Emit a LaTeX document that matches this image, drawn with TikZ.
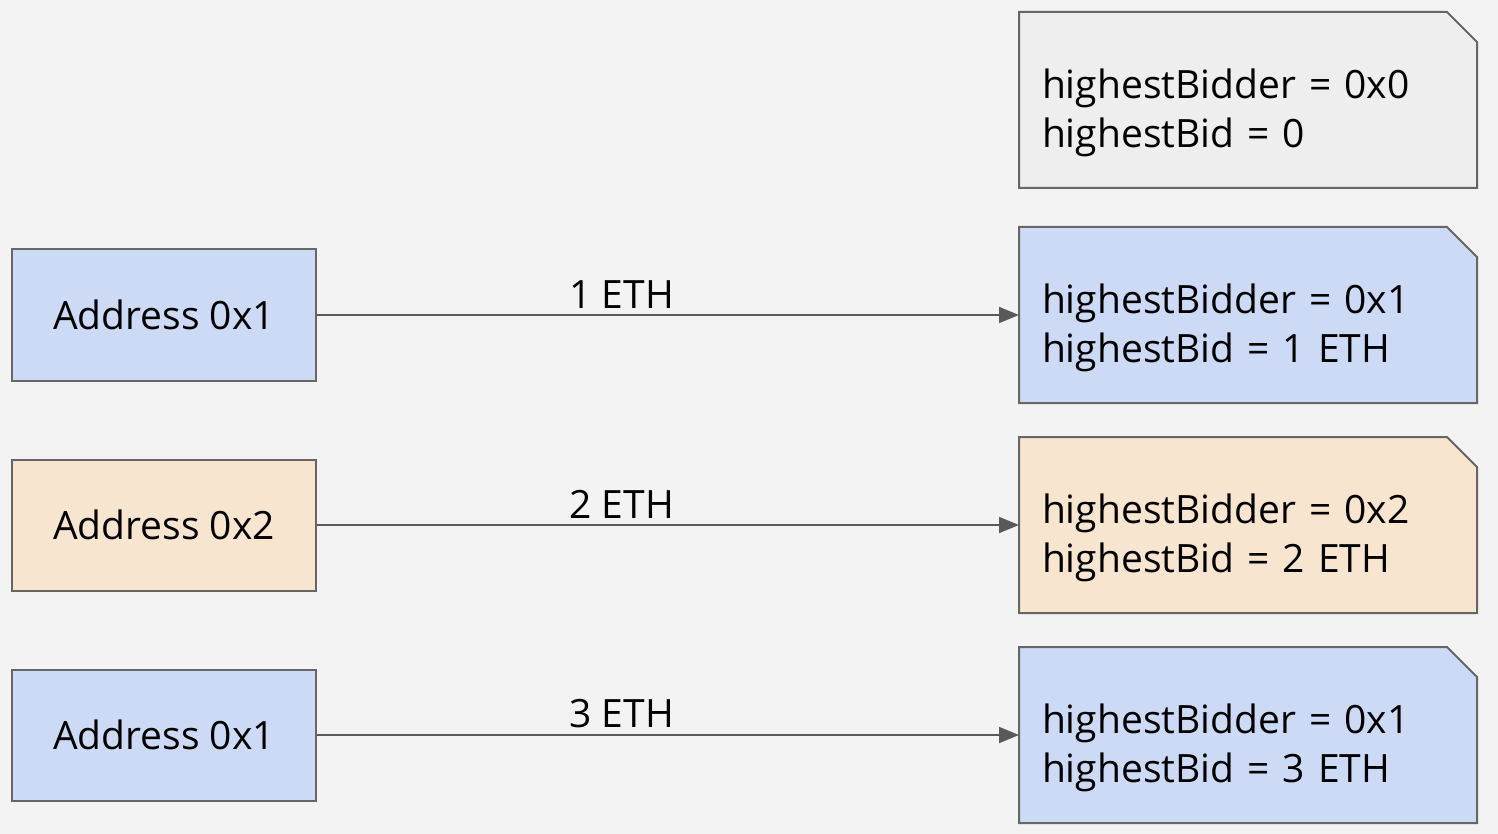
\documentclass[tikz,border=0pt]{standalone}
\usepackage{fontspec}
\setmainfont{Open Sans}
\usetikzlibrary{arrows.meta,backgrounds}
\definecolor{bg}{HTML}{F3F3F3}
\definecolor{bluefill}{HTML}{CCDAF5}
\definecolor{orangefill}{HTML}{F8E5D0}
\definecolor{grayfill}{HTML}{EEEEEE}
\definecolor{edge}{HTML}{666666}
\definecolor{arrowc}{HTML}{595959}
\tikzset{
  addr/.style={rectangle, draw=edge, line width=1pt, minimum width=152pt, minimum height=65.5pt, inner sep=0pt, font=\fontsize{19.5}{23}\selectfont},
  state/.style={rectangle, minimum width=229pt, minimum height=88pt, text width=206pt, inner xsep=11.5pt, inner ysep=0pt, align=left, font=\fontsize{19.5}{24.5}\selectfont},
  bid/.style={draw=arrowc, line width=0.9pt, -{Triangle[length=10pt,width=8pt]}},
  bidlabel/.style={above, pos=0.434, inner sep=3pt, font=\fontsize{19.5}{23}\selectfont},
  note/.style={draw=edge, line width=1pt}
}
\begin{document}
\begin{tikzpicture}[x=0.5pt,y=-0.5pt]
\useasboundingbox (0,0) rectangle (1498,834);

\node[addr, fill=bluefill] (a1) at (164,315) {Address 0x1};
\node[addr, fill=orangefill] (a2) at (164,525) {Address 0x2};
\node[addr, fill=bluefill] (a3) at (164,735) {Address 0x1};

\node[state] (s0) at (1248,113) {highestBidder = 0x0\\highestBid = 0};
\node[state] (s1) at (1248,328) {highestBidder = 0x1\\highestBid = 1 ETH};
\node[state] (s2) at (1248,538) {highestBidder = 0x2\\highestBid = 2 ETH};
\node[state] (s3) at (1248,748) {highestBidder = 0x1\\highestBid = 3 ETH};

\begin{scope}[on background layer]
\fill[bg] (0,0) rectangle (1498,834);
\filldraw[note, fill=grayfill] (1019,12) -- (1447,12) -- (1477,42) -- (1477,188) -- (1019,188) -- cycle;
\filldraw[note, fill=bluefill] (1019,227) -- (1447,227) -- (1477,257) -- (1477,403) -- (1019,403) -- cycle;
\filldraw[note, fill=orangefill] (1019,437) -- (1447,437) -- (1477,467) -- (1477,613) -- (1019,613) -- cycle;
\filldraw[note, fill=bluefill] (1019,647) -- (1447,647) -- (1477,677) -- (1477,823) -- (1019,823) -- cycle;
\end{scope}

\coordinate (t1) at (1019,315);
\coordinate (t2) at (1019,525);
\coordinate (t3) at (1019,735);
\draw[bid] (a1.east) -- node[bidlabel] {1 ETH} (t1);
\draw[bid] (a2.east) -- node[bidlabel] {2 ETH} (t2);
\draw[bid] (a3.east) -- node[bidlabel] {3 ETH} (t3);
\end{tikzpicture}
\end{document}
